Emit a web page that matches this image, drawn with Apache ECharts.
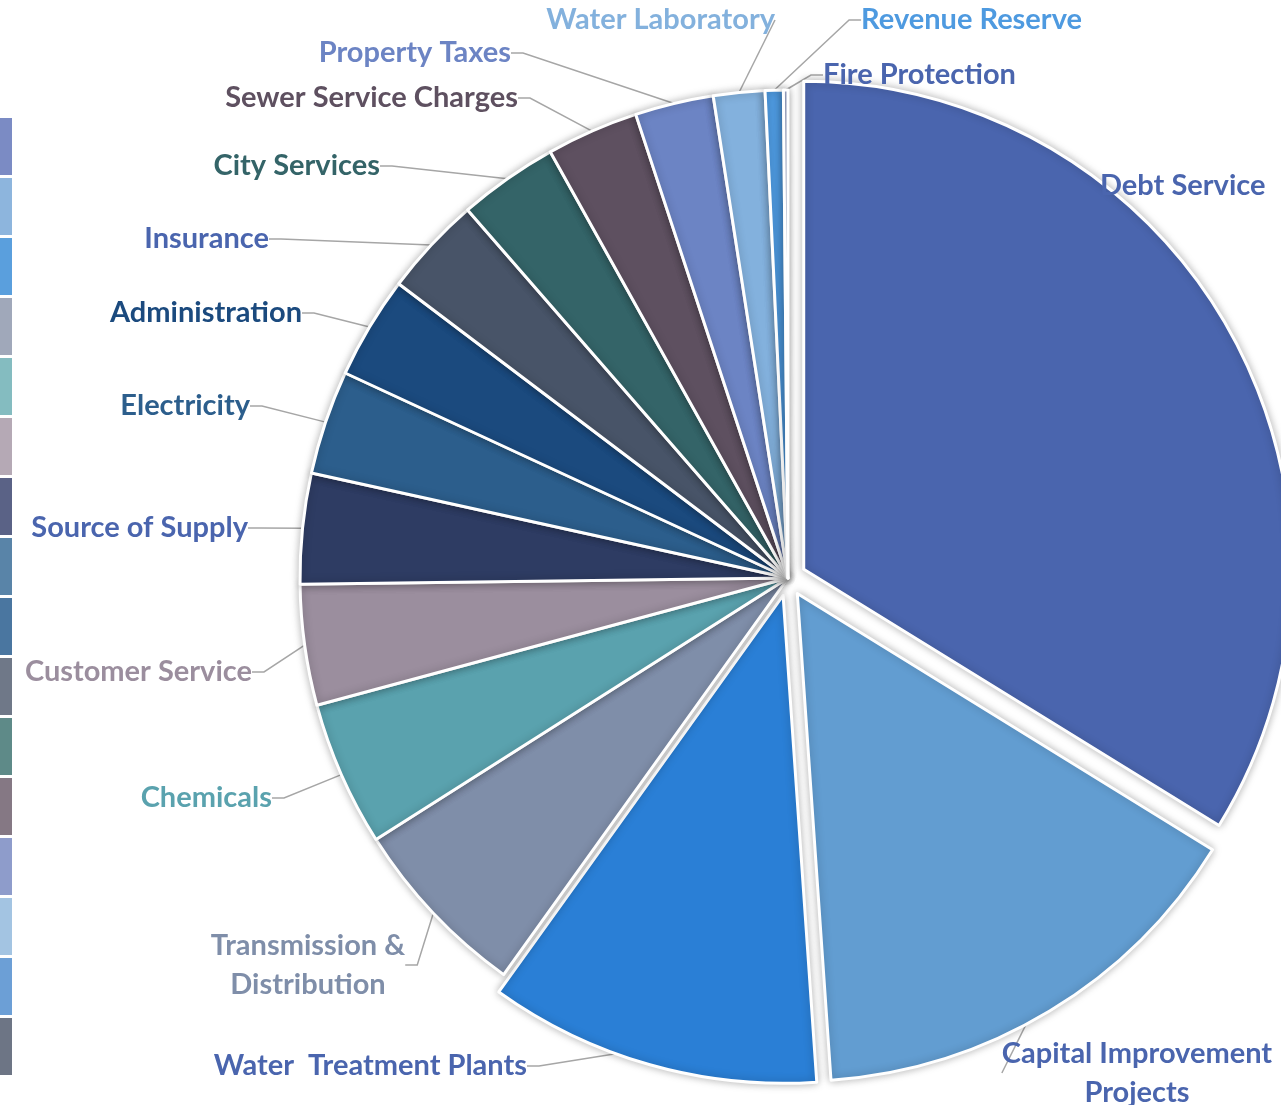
<!DOCTYPE html>
<html>
<head>
<meta charset="utf-8">
<script src="https://cdn.jsdelivr.net/npm/echarts@6/dist/echarts.min.js"></script>
<style>
  html, body { margin: 0; padding: 0; background: #fff; }
  #chart { width: 1281px; height: 1105px; }
</style>
</head>
<body>
<div id="chart"></div>
<script>
// categories and shares (percent of budget)
const categories = [
  'Debt Service', 'Capital Improvement\nProjects', 'Water  Treatment Plants',
  'Transmission &\nDistribution', 'Chemicals', 'Customer Service', 'Source of Supply',
  'Electricity', 'Administration', 'Insurance', 'City Services', 'Sewer Service Charges',
  'Property Taxes', 'Water Laboratory', 'Revenue Reserve', 'Fire Protection'
]
const shares = [33.8, 15.1, 11.0, 6.1, 4.8, 4.0, 3.65, 3.45, 3.4, 3.3, 3.3, 3.05, 2.6, 1.7, 0.6, 0.15]
const exploded = ['Debt Service', 'Capital Improvement\nProjects', 'Water  Treatment Plants']

// styles
const sliceColors = ['#4A65AE', '#629DD1', '#2A7FD6', '#7F8EA9', '#5AA2AE', '#9B8E9E', '#2E3C63',
  '#2C5E8C', '#1B4A7E', '#485468', '#346468', '#5E5060', '#6C84C4', '#83B1DD', '#4E9AE0', '#A3AECF']
const swatchColors = ['#7B8BC4', '#8DB5DD', '#5A9FDD', '#A0A8BA', '#84BCC0', '#B5A9B5', '#5A6286',
  '#5984A8', '#4A76A0', '#6F7888', '#5E8A88', '#857884', '#8E9CCB', '#A3C4E2', '#6C9FD6', '#6D7585']
const labelColors = ['#4A65AE', '#4A65AE', '#4A65AE', '#7F8EA9', '#5AA2AE', '#9B8E9E', '#4A65AE',
  '#2C5E8C', '#1B4A7E', '#4A65AE', '#346468', '#5E5060', '#6C84C4', '#83B1DD', '#4E9AE0', '#4A65AE']
// label anchor: x, y (middle), align
const labelSpots = [
  [1100, 186, 'left'], [1137, 1073, 'center'], [527, 1066, 'right'], [308, 965, 'center'],
  [272, 798, 'right'], [252, 672, 'right'], [248, 528, 'right'], [250, 406, 'right'],
  [302, 313, 'right'], [269, 239, 'right'], [380, 166, 'right'], [518, 98, 'right'],
  [511, 53, 'right'], [775, 20, 'right'], [1082, 20, 'right'], [823, 75, 'left']
]

const PIE_CENTER = [788, 578]
const PIE_RADIUS = 488

const chart = echarts.init(document.getElementById('chart'))

chart.setOption({
  animation: false,
  legend: {
    orient: 'vertical',
    left: 0,
    top: 118,
    padding: 0,
    itemWidth: 12,
    itemHeight: 57,
    itemGap: 3,
    icon: 'rect',
    selectedMode: false,
    formatter: () => '',
    textStyle: { color: 'transparent', fontSize: 1 },
    itemStyle: { borderWidth: 0, shadowBlur: 0 },
    data: categories.map((name, i) => ({ name, itemStyle: { color: swatchColors[i], borderWidth: 0 } }))
  },
  series: [{
    // the coloured slices, three of them pulled out
    type: 'pie',
    center: PIE_CENTER,
    radius: PIE_RADIUS,
    startAngle: 90,
    clockwise: true,
    selectedMode: 'multiple',
    selectedOffset: 18,
    emphasis: { disabled: true },
    itemStyle: {
      borderColor: '#fff',
      borderWidth: 3,
      shadowBlur: 8,
      shadowColor: 'rgba(0, 0, 0, 0.28)'
    },
    label: { show: false },
    labelLine: { show: false },
    data: categories.map((name, i) => ({
      name,
      value: shares[i],
      selected: exploded.indexOf(name) >= 0,
      itemStyle: { color: sliceColors[i] }
    }))
  }, {
    // same data, invisible, only carries the labels
    type: 'pie',
    center: PIE_CENTER,
    radius: PIE_RADIUS,
    startAngle: 90,
    clockwise: true,
    silent: true,
    avoidLabelOverlap: false,
    emphasis: { disabled: true },
    itemStyle: { color: 'transparent', borderWidth: 0 },
    label: {
      fontFamily: 'Lato',
      fontWeight: 'bold',
      fontSize: 29,
      lineHeight: 39
    },
    labelLine: {
      show: true,
      length: 10,
      length2: 12,
      lineStyle: { color: '#A6A6A6', width: 1.5 }
    },
    labelLayout: function (params) {
      const s = labelSpots[params.dataIndex]
      return { x: s[0], y: s[1], align: s[2], verticalAlign: 'middle', hideOverlap: false }
    },
    data: categories.map((name, i) => ({
      name,
      value: shares[i],
      label: { color: labelColors[i], align: labelSpots[i][2] },
      labelLine: { show: i !== 0 }
    }))
  }]
})
</script>
</body>
</html>
